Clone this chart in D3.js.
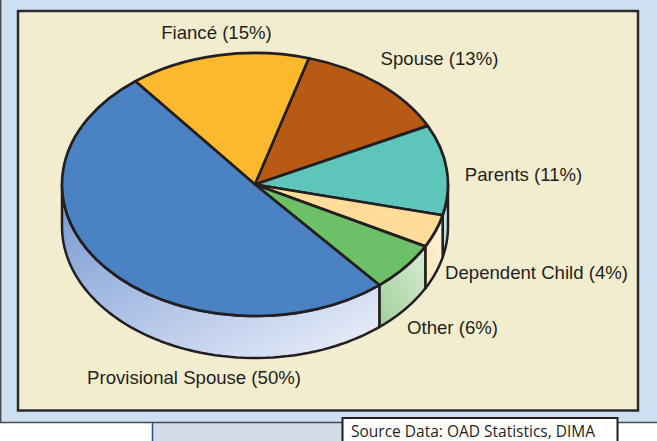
<!DOCTYPE html>
<html>
<head>
<meta charset="utf-8">
<script src="https://cdn.jsdelivr.net/npm/d3@7"></script>
<style>
html, body { margin: 0; padding: 0; background: #fff; }
svg { display: block; }
</style>
</head>
<body>
<div id="vis"></div>
<script>
var width = 657, height = 441;

// chart data, clockwise from the fiance slice
var categories = ["Fiancé", "Spouse", "Parents", "Dependent Child", "Other", "Provisional Spouse"];
var values = [15, 13, 11, 4, 6, 50];
var topColors = ["#fdb92e", "#b85a14", "#5ec5bb", "#fddd99", "#6cc068", "#4a82c3"];
var wallFrom = ["#fdb92e", "#b85a14", "#9ed8d2", "#fde4b4", "#9fd09a", "#7497d2"];
var wallTo = ["#fff0cc", "#e8b080", "#d8f0ee", "#fff4e0", "#d9ecd4", "#eef1fb"];
var labelText = categories.map((c, i) => c + " (" + values[i] + "%)");
var labelX = [216.5, 439.5, 523.5, 536.5, 452.5, 194];
var labelY = [39, 65, 181, 279, 334, 384];

var cx = 255, cy = 184.5, rx = 193, ry = 131.5, depth = 42;
var startAngle = -38.3 * Math.PI / 180;

var svg = d3.select("#vis")
    .append("svg")
    .attr("width", width)
    .attr("height", height)
    .style("font-family", "'Liberation Sans', Arial, sans-serif");

var defs = svg.append("defs");

// background panels
svg.append("rect").attr("x", 152).attr("y", 420).attr("width", 466).attr("height", 21)
    .attr("fill", "#d3dcea");
svg.append("line").attr("x1", 152.5).attr("x2", 152.5).attr("y1", 420).attr("y2", 441)
    .attr("stroke", "#1f4f8f").attr("stroke-width", 1.5);
svg.append("rect").attr("x", 0).attr("y", 0).attr("width", width).attr("height", 422.5)
    .attr("fill", "#cde0f2");
svg.append("path").attr("d", "M0.7,0V422.5H657")
    .attr("fill", "none").attr("stroke", "#4a4a4f").attr("stroke-width", 1.5);
svg.append("rect").attr("x", 18).attr("y", 11).attr("width", 620).attr("height", 399.5)
    .attr("fill", "#f3edcf").attr("stroke", "#2b2a2c").attr("stroke-width", 2.5);

// source box
svg.append("rect").attr("x", 342.5).attr("y", 418).attr("width", 275).attr("height", 30)
    .attr("fill", "#fff").attr("stroke", "#231f20").attr("stroke-width", 2);
svg.append("text").attr("x", 351).attr("y", 436.5)
    .attr("font-family", "'Open Sans', sans-serif").attr("font-size", 15.5).attr("fill", "#231f20")
    .text("Source Data: OAD Statistics, DIMA");

var pie = d3.pie().sort(null)
    .startAngle(startAngle)
    .endAngle(startAngle + 2 * Math.PI);
var slices = pie(values);

// big unit radius so d3's path rounding does not shift the arcs
var unit = 1000;
var arc = d3.arc().innerRadius(0).outerRadius(unit);

// x and y of a point on the rim
var px = d3.scaleLinear().domain([-1, 1]).range([cx - rx, cx + rx]);
var py = d3.scaleLinear().domain([-1, 1]).range([cy - ry, cy + ry]);
var rim = a => [px(Math.sin(a)), py(-Math.cos(a))];

// side wall, only the part of the slice that faces the viewer
function wall(d) {
    var a0 = Math.max(d.startAngle, Math.PI / 2);
    var a1 = Math.min(d.endAngle, 3 * Math.PI / 2);
    if (a1 <= a0) return null;
    var pts = d3.range(0, 61).map(i => rim(a0 + (a1 - a0) * i / 60));
    var upper = pts;
    var lower = pts.map(p => [p[0], p[1] + depth]).reverse();
    return d3.line()(upper.concat(lower)) + "Z";
}

slices.forEach((d, i) => {
    var g = defs.append("linearGradient").attr("id", "wall" + i)
        .attr("x1", "0%").attr("y1", "0%").attr("x2", "100%").attr("y2", "100%");
    if (i == 4 || i == 3 || i == 2) {
        g.attr("x1", "0%").attr("y1", "100%").attr("x2", "100%").attr("y2", "0%");
    }
    g.append("stop").attr("offset", "0%").attr("stop-color", wallFrom[i]);
    g.append("stop").attr("offset", "100%").attr("stop-color", wallTo[i]);
});

svg.append("g").selectAll("path")
    .data(slices.filter(d => wall(d)))
    .join("path")
    .attr("d", wall)
    .attr("fill", d => "url(#wall" + d.index + ")")
    .attr("stroke", "#231f20")
    .attr("stroke-width", 2.5)
    .attr("stroke-linejoin", "round");

// top of the pie, circle arcs squashed into the ellipse
svg.append("g")
    .attr("transform", "translate(" + cx + "," + cy + ") scale(" + (rx / unit) + "," + (ry / unit) + ")")
    .selectAll("path")
    .data(slices)
    .join("path")
    .attr("d", arc)
    .attr("fill", (d, i) => topColors[i])
    .attr("stroke", "#231f20")
    .attr("stroke-width", 2.7)
    .attr("stroke-linejoin", "round")
    .attr("vector-effect", "non-scaling-stroke");

svg.append("g").selectAll("text")
    .data(labelText)
    .join("text")
    .attr("x", (d, i) => labelX[i])
    .attr("y", (d, i) => labelY[i])
    .attr("text-anchor", "middle")
    .attr("font-size", 18.6)
    .attr("fill", "#231f20")
    .text(d => d);
</script>
</body>
</html>
